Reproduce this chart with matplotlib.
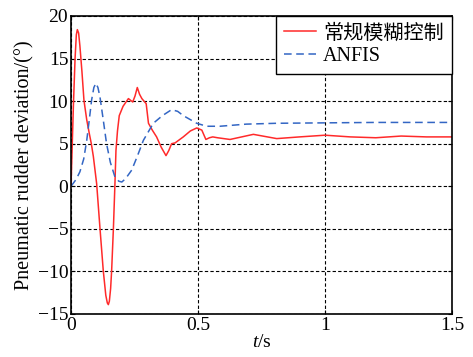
import matplotlib
matplotlib.use("Agg")
import matplotlib.pyplot as plt

t_red = [0.0, 0.004, 0.01, 0.016, 0.021, 0.025, 0.03, 0.035, 0.043, 0.051, 0.062, 0.072, 0.08, 0.088,
         0.101, 0.114, 0.127, 0.137, 0.143, 0.147, 0.151, 0.156, 0.16, 0.167, 0.173, 0.177, 0.183, 0.19,
         0.205, 0.226, 0.243, 0.252, 0.261, 0.27, 0.279, 0.296, 0.305, 0.32,
         0.337, 0.355, 0.374, 0.385, 0.396, 0.41, 0.442, 0.47, 0.495, 0.515, 0.531, 0.545, 0.558, 0.577, 0.626,
         0.718, 0.81, 0.9, 1.0, 1.1, 1.2, 1.3, 1.4, 1.5]
v_red = [0.0, 4.0, 10.0, 15.0, 17.8, 18.4, 18.0, 16.5, 13.5, 10.1, 7.8, 6.2, 5.0, 3.5,
         0.3, -4.9, -9.9, -12.8, -13.7, -13.9, -13.5, -12.0, -9.9, -4.9, 0.3, 4.2, 6.5, 8.3,
         9.4, 10.3, 9.9, 10.6, 11.6, 10.8, 10.3, 9.7, 7.4, 6.6,
         5.8, 4.6, 3.6, 4.2, 5.0, 5.1, 5.8, 6.5, 6.85, 6.6, 5.5, 5.7, 5.8, 5.7, 5.5,
         6.1, 5.6, 5.8, 6.0, 5.8, 5.7, 5.9, 5.8, 5.8]

t_blue = [0.0, 0.02, 0.035, 0.05, 0.062, 0.072, 0.081, 0.09, 0.098, 0.106, 0.114, 0.127, 0.14, 0.155,
          0.173, 0.188, 0.2, 0.215, 0.239, 0.262, 0.285, 0.324, 0.36, 0.396, 0.42, 0.442, 0.495, 0.534,
          0.586, 0.69, 0.81, 1.0, 1.2, 1.5]
v_blue = [0.0, 0.8, 1.7, 3.2, 5.4, 7.8, 10.1, 11.6, 12.1, 11.6, 10.5, 7.8, 5.0, 2.8,
          1.1, 0.6, 0.5, 0.9, 1.9, 3.6, 5.4, 7.4, 8.3, 9.0, 8.8, 8.3, 7.4, 7.05,
          7.05, 7.3, 7.4, 7.45, 7.5, 7.5]

series_names = ["常规模糊控制", "ANFIS"]
x_ticks = [0, 0.5, 1, 1.5]
x_tick_labels = ["0", "0.5", "1", "1.5"]
y_ticks = [-15, -10, -5, 0, 5, 10, 15, 20]

plt.rcParams['font.family'] = ['Liberation Serif', 'Noto Sans CJK SC', 'DejaVu Sans']
plt.rcParams['mathtext.fontset'] = 'custom'
plt.rcParams['mathtext.it'] = 'Liberation Serif:italic'
plt.rcParams['mathtext.rm'] = 'Liberation Serif'

fig = plt.figure(figsize=(4.73, 3.57), dpi=100)
ax = fig.add_axes([71/473, 1-314/357, (452-71)/473, (314-16)/357])

ax.plot(t_red, v_red, color='#ff2a2a', lw=1.1, label=series_names[0])
ax.plot(t_blue, v_blue, color='#3366c4', lw=1.1, ls=(0, (5, 3)), label=series_names[1])

ax.set_xlim(0, 1.5)
ax.set_ylim(-15, 20)
ax.set_xticks(x_ticks)
ax.set_xticklabels(x_tick_labels)
ax.set_yticks(y_ticks)
ax.tick_params(direction='in', labelsize=14, length=3, top=True, right=True, pad=2)
ax.grid(True, color='black', ls=(0, (3, 2)), lw=0.8)
for s in ax.spines.values():
    s.set_linewidth(1.2)

ax.set_xlabel('$t$/s', fontsize=14, labelpad=0)
ax.set_ylabel('Pneumatic rudder deviation/(°)', fontsize=14.5, labelpad=2)

leg = ax.legend(loc='upper right', fontsize=14.5, frameon=True, fancybox=False,
                borderaxespad=0, handlelength=1.6, handletextpad=0.35, borderpad=0.4,
                labelspacing=0.15, edgecolor='black', framealpha=1)
leg.get_frame().set_linewidth(1.0)

fig.savefig('out.png', dpi=100)
